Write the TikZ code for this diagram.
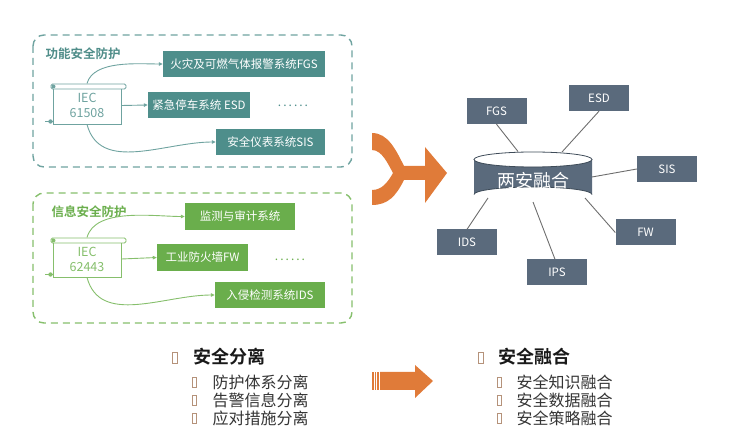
\documentclass[tikz,border=0pt]{standalone}
\usepackage{fontspec}
\setmainfont{Noto Sans CJK SC}[BoldFont={Noto Sans CJK SC Bold}]
\usetikzlibrary{arrows.meta}
\definecolor{tealF}{HTML}{4E8E8B}
\definecolor{tealD}{HTML}{6FA3A0}
\definecolor{tealL}{HTML}{4F8D89}
\definecolor{greenF}{HTML}{6AAE4C}
\definecolor{greenD}{HTML}{86BF6C}
\definecolor{slateF}{HTML}{5A6A7C}
\definecolor{slateD}{HTML}{3F4C59}
\definecolor{lineG}{HTML}{6E6E6E}
\definecolor{orangeA}{HTML}{E07B39}
\definecolor{bulC}{HTML}{B5927A}
\begin{document}
\begin{tikzpicture}[x=1pt,y=-1pt,
  sysbox/.style={inner sep=0pt, text=white, minimum height=26pt, font=\fontsize{11.5}{13}\selectfont},
  tbox/.style={sysbox, fill=tealF},
  gbox/.style={sysbox, fill=greenF},
  sbox/.style={sysbox, fill=slateF, minimum width=60pt, font=\fontsize{11.5}{13}\selectfont},
  dbox/.style={dash pattern=on 7pt off 5pt, line width=1.4pt, rounded corners=11pt},
  grplabel/.style={anchor=west, font=\bfseries\fontsize{12.5}{14}\selectfont},
  scroll/.style={draw, fill=white, line width=0.9pt, minimum width=68pt, align=center, inner sep=0pt, font=\fontsize{12.5}{15}\selectfont},
  conn/.style={line width=0.9pt, -{Triangle[length=4pt,width=3.5pt]}},
  spoke/.style={draw=lineG, line width=0.9pt},
  bul/.style={draw=bulC, line width=0.8pt, inner sep=0pt, minimum width=4pt, minimum height=10pt},
  head/.style={anchor=west, font=\bfseries\fontsize{18}{20}\selectfont, text=black!90},
  item/.style={anchor=west, font=\fontsize{16}{18}\selectfont, text=black!80},
  dots/.style={font=\fontsize{12}{13}\selectfont}
]
\useasboundingbox (0,0) rectangle (750,430);

% ---------- top group (functional safety) ----------
\draw[dbox, tealD] (33,35) rectangle (352,167);
\node[grplabel, text=tealL] (lab1) at (42,54) {功能安全防护};
\node[tbox, minimum width=162pt] (fgs) at (244,64) {火灾及可燃气体报警系统FGS};
\node[tbox, minimum width=102pt] (esd) at (199,105) {紧急停车系统 ESD};
\node[tbox, minimum width=109pt] (sis) at (270.5,142) {安全仪表系统SIS};
\node[dots, text=tealF] (dots1) at (293,106) {.\,.\,.\,.\,.\,.};
\node[scroll, draw=tealD, text=tealD, minimum height=37pt] (iec1) at (87,105.5) {IEC\\61508};
\draw[conn, draw=tealD] (iec1.north) ++(0,-3) to[out=75,in=180,looseness=0.8] (fgs.west);
\draw[conn, draw=tealD] (iec1.east) -- (esd.west);
\draw[conn, draw=tealD] (iec1.south) to[out=-75,in=180] (sis.west);
\draw[draw=tealD, fill=white, line width=0.9pt, rounded corners=1.5pt] (51,84) rectangle (126,89);
\fill[tealD] (53.5,86.5) circle (2pt);
\draw[draw=tealD, line width=0.9pt] (iec1.south west) ++(0,-2.5) -- ++(-8,0);
\fill[tealD] (50.5,121.5) circle (2.2pt);

% ---------- bottom group (information security) ----------
\draw[dbox, greenD] (33,193) rectangle (352,323);
\node[grplabel, text=greenF] (lab2) at (48,212) {信息安全防护};
\node[gbox, minimum width=110pt, minimum height=27pt] (mon) at (240,216.5) {监测与审计系统};
\node[gbox, minimum width=91pt, minimum height=27pt] (fwb) at (202.5,257.5) {工业防火墙FW};
\node[gbox, minimum width=110pt] (idsb) at (270,295) {入侵检测系统IDS};
\node[dots, text=greenF] (dots2) at (290,260) {.\,.\,.\,.\,.\,.};
\node[scroll, draw=greenD, text=greenD, minimum height=36pt] (iec2) at (87,259) {IEC\\62443};
\draw[conn, draw=greenD] (iec2.north) ++(0,-3) to[out=75,in=180,looseness=0.8] (mon.west);
\draw[conn, draw=greenD] (iec2.east) -- (fwb.west);
\draw[conn, draw=greenD] (iec2.south) to[out=-75,in=180] (idsb.west);
\draw[draw=greenD, fill=white, line width=0.9pt, rounded corners=1.5pt] (51,238) rectangle (126,243);
\fill[greenD] (53.5,240.5) circle (2pt);
\draw[draw=greenD, line width=0.9pt] (iec2.south west) ++(0,-2.5) -- ++(-8,0);
\fill[greenD] (50.5,274.5) circle (2.2pt);

% ---------- merge arrow ----------
\fill[orangeA] (372,133) .. controls (388,133) and (396,150) .. (404,166) -- (425,166) -- (425,147)
  -- (447,173) -- (425,203) -- (425,180) -- (404,180) .. controls (396,196) and (388,205) .. (372,205)
  -- (372,190) .. controls (382,190) and (388,182) .. (393,173) .. controls (388,164) and (382,150) .. (372,150) -- cycle;

% ---------- fusion hub ----------
\node[sbox] (fgsR) at (496.5,111) {FGS};
\node[sbox] (esdR) at (599,98) {ESD};
\node[sbox] (sisR) at (667,169) {SIS};
\node[sbox] (fwR) at (645.5,232.5) {FW};
\node[sbox] (ipsR) at (557,272.5) {IPS};
\node[sbox] (idsR) at (467,242.5) {IDS};
\node[minimum width=118pt, minimum height=50pt, inner sep=0pt] (cyl) at (533,177) {};
\coordinate (cfgs) at ([shift={(-15,-25.5)}]cyl.center);
\coordinate (cesd) at ([shift={(29,-25)}]cyl.center);
\coordinate (csis) at ([shift={(59,0)}]cyl.center);
\coordinate (cfw) at ([shift={(52,21)}]cyl.center);
\coordinate (cips) at ([shift={(0,25)}]cyl.center);
\coordinate (cids) at ([shift={(-45,21)}]cyl.center);
\draw[spoke] (fgsR.south) -- (cfgs);
\draw[spoke] (esdR.south) -- (cesd);
\draw[spoke] (sisR.west) -- (csis);
\draw[spoke] (fwR.west) -- (cfw);
\draw[spoke] ([xshift=-2pt]ipsR.north) -- (cips);
\draw[spoke] (idsR.north) -- (cids);
\fill[slateF] (474,159.5) -- (474,194.5) arc[start angle=180, end angle=0, x radius=59pt, y radius=7.5pt]
  -- (592,159.5) arc[start angle=0, end angle=-180, x radius=59pt, y radius=7.5pt] -- cycle;
\draw[slateD, line width=0.8pt] (533,159.5) ellipse [x radius=59pt, y radius=7.5pt];
\draw[slateD, line width=0.8pt] (474,194.5) arc[start angle=180, end angle=0, x radius=59pt, y radius=7.5pt];
\node[text=white, font=\fontsize{18}{20}\selectfont] (cyltext) at (533,181) {两安融合};

% ---------- bottom lists ----------
\node[bul, minimum width=5pt, minimum height=11pt] (b0) at (174.5,357.5) {};
\node[head] (h1) at (190,357) {安全分离};
\node[bul] (b1) at (194,382) {};
\node[item] (i1) at (209,382) {防护体系分离};
\node[bul] (b2) at (194,400) {};
\node[item] (i2) at (209,400) {告警信息分离};
\node[bul] (b3) at (194,418) {};
\node[item] (i3) at (209,418) {应对措施分离};

\fill[orangeA] (372,372) rectangle (373.5,390);
\fill[orangeA] (374.7,372) rectangle (376.2,390);
\fill[orangeA] (377.4,372) rectangle (378.9,390);
\fill[orangeA] (380,372) -- (415,372) -- (415,365) -- (433,381) -- (415,398) -- (415,390) -- (380,390) -- cycle;

\node[bul, minimum width=5pt, minimum height=11pt] (r0) at (480.5,357.5) {};
\node[head] (h2) at (495,357) {安全融合};
\node[bul] (rb1) at (499,382) {};
\node[item] (r1) at (513,382) {安全知识融合};
\node[bul] (rb2) at (499,400) {};
\node[item] (r2) at (513,400) {安全数据融合};
\node[bul] (rb3) at (499,418) {};
\node[item] (r3) at (513,418) {安全策略融合};
\end{tikzpicture}
\end{document}
